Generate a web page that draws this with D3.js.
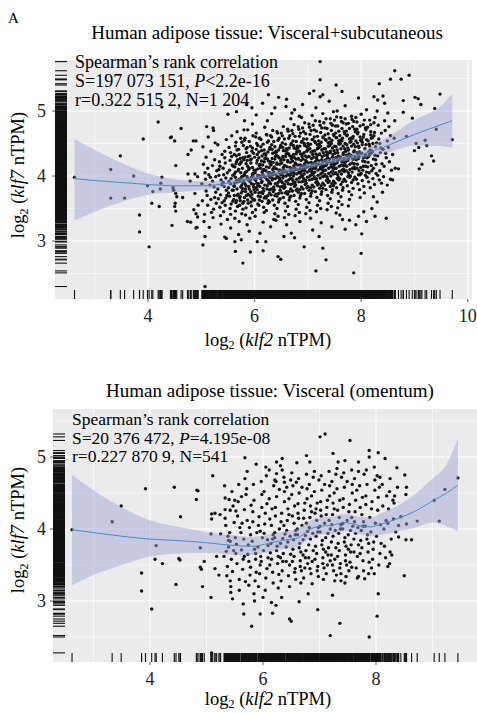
<!doctype html>
<html>
<head>
<meta charset="utf-8">
<title>klf2 vs klf7 adipose</title>
<script src="https://d3js.org/d3.v7.min.js"></script>
<style>
  body { margin: 0; background: #fff; }
  text { font-family: "Liberation Serif", "DejaVu Serif", serif; }
</style>
</head>
<body>
<script>
// ---- data: [log2 klf2, log2 klf7] ----
var visSubPoints = [
  // sparse left tail
  [2.62,3.98],[3.30,4.10],[3.48,4.31],[3.30,3.66],[3.56,3.66],[3.73,4.00],[3.91,4.57],[3.84,3.40],[3.84,3.14],[4.02,2.91],
  [4.19,4.83],[4.26,5.06],[3.99,3.85],[4.09,3.76],[4.07,3.58],[4.21,3.53],[4.26,3.98],[4.24,3.89],[4.23,3.80],[4.42,4.59],
  [4.50,4.54],[4.62,4.73],[4.52,4.16],[4.47,3.82],[4.48,3.78],[4.52,3.73],[4.54,3.68],[4.65,3.67],[4.51,3.58],[4.50,3.53],
  [4.52,3.46],[4.45,3.24],[4.85,4.54],[4.81,4.40],[4.75,4.33],[4.75,4.03],[4.79,3.92],[4.88,4.03],[4.93,3.99],[4.88,3.73],
  [4.94,3.55],[4.86,3.48],[4.90,3.42],[4.80,3.29],[4.92,3.21],[4.93,3.37],[4.44,4.60],[4.90,4.54],[5.22,4.74],[5.10,4.76],
  [5.50,4.95],[5.66,4.99],[5.07,2.30],[5.03,2.94],[5.07,3.07],[4.90,3.20],[4.74,3.30],[5.64,2.84],[5.63,2.99],[5.44,3.06],
  // top fringe
  [7.23,5.76],[7.23,5.48],[6.26,5.25],[6.45,5.21],[7.03,5.27],[7.11,5.31],[7.23,5.22],[7.28,5.25],[6.03,4.94],[6.32,4.96],
  [6.75,5.02],[6.84,4.92],[6.59,5.07],[5.81,4.85],[5.80,4.71],[5.95,5.05],[6.15,5.12],[6.60,5.18],[6.90,5.10],[7.40,5.15],
  [7.70,5.08],[7.95,5.20],[8.10,5.02],[6.38,5.05],[7.55,5.00],[8.00,4.95],[7.15,5.05],[5.85,5.10],[6.70,4.97],[8.30,5.00],[8.50,4.97],
  // right tail
  [8.63,5.62],[8.55,5.49],[8.75,5.49],[8.90,5.55],[8.34,5.42],[7.53,5.40],[7.64,5.30],[8.24,5.22],[8.41,5.23],[8.31,5.17],
  [8.44,5.12],[8.79,5.16],[9.01,5.21],[9.07,5.19],[9.12,5.10],[9.48,5.26],[9.38,5.04],[8.79,4.98],[8.96,4.89],[8.63,4.85],
  [9.41,4.72],[9.71,4.56],[9.20,4.55],[9.03,4.50],[9.08,4.44],[9.00,4.39],[9.23,4.47],[8.85,4.61],[9.32,4.31],[9.36,4.23],
  [9.14,4.18],[9.09,4.11],[8.70,4.11],[8.64,4.12],[8.49,3.86],[8.59,3.94],[8.38,3.89],[8.23,3.68],[8.20,3.50],[8.26,3.38],
  [8.47,3.35],[8.01,3.11],[8.00,2.81],[7.86,2.51],[7.78,3.32],[7.65,3.33],[7.95,3.38],[7.53,3.43],[8.62,4.58],
  // bottom fringe
  [5.78,2.66],[5.92,2.83],[6.16,2.85],[6.44,2.76],[6.49,2.72],[7.15,2.54],[6.93,2.91],[7.28,2.89],[5.47,3.04],[5.75,3.02],
  [6.05,2.99],[6.21,2.99],[6.55,3.07],[6.69,3.12],[7.09,3.17],[7.34,2.71],[7.21,3.07],[5.55,3.20],[5.90,3.15],[6.30,3.22],
  [6.60,3.25],[6.85,3.30],[7.25,3.28],[7.45,3.22],[7.70,3.18],[7.90,3.25],[8.10,3.30],[6.10,3.12],[6.75,3.05],[7.05,3.35],
  [5.70,3.10],[6.40,3.32],[7.60,3.40],[8.05,3.45],[8.30,3.60],[8.40,3.75],[8.55,3.95],
  // dense body
  [5.02,3.62],[5.04,4.18],[5.06,3.41],[5.08,3.95],[5.03,4.45],[5.09,3.77],[5.05,3.30],[5.07,4.05],[5.01,3.88],[5.09,4.29],
  [5.12,3.55],[5.14,4.02],[5.16,3.86],[5.18,4.38],[5.11,3.70],[5.19,3.44],[5.13,4.60],[5.17,3.98],[5.15,3.21],[5.12,4.12],[5.18,3.64],
  [5.21,3.92],[5.23,3.49],[5.25,4.25],[5.27,3.75],[5.29,4.08],[5.22,3.36],[5.26,4.51],[5.24,3.83],[5.28,3.58],[5.21,4.16],[5.27,3.99],[5.25,3.67],[5.23,4.70],
  [5.31,3.80],[5.33,4.10],[5.35,3.52],[5.37,3.94],[5.39,4.33],[5.32,3.65],[5.34,4.22],[5.36,3.39],[5.38,3.87],[5.31,4.48],[5.36,3.71],[5.33,4.01],[5.39,3.59],[5.35,4.15],[5.37,3.26],
  [5.41,3.90],[5.43,3.62],[5.45,4.20],[5.47,3.78],[5.49,4.05],[5.42,3.45],[5.44,4.38],[5.46,3.97],[5.48,3.70],[5.41,4.12],[5.45,3.55],[5.47,4.56],[5.43,3.84],[5.49,3.33],[5.44,4.28],[5.46,3.66],[5.42,4.02],
  [5.51,3.74],[5.53,4.09],[5.55,3.88],[5.57,4.30],[5.59,3.61],[5.52,4.44],[5.54,3.50],[5.56,3.96],[5.58,4.17],[5.51,3.82],[5.55,3.41],[5.57,4.62],[5.53,3.69],[5.59,4.01],[5.54,4.24],[5.56,3.57],[5.52,3.92],[5.58,3.78],[5.55,4.36],
  [5.61,3.85],[5.63,4.14],[5.65,3.59],[5.67,4.40],[5.69,3.72],[5.62,4.03],[5.64,3.46],[5.66,3.93],[5.68,4.25],[5.61,3.64],[5.65,4.52],[5.67,3.80],[5.63,3.35],[5.69,4.08],[5.64,3.98],[5.66,4.31],[5.62,3.70],[5.68,3.53],[5.65,4.19],[5.63,3.89],[5.67,4.68],
  [5.71,3.95],[5.73,3.68],[5.75,4.22],[5.77,3.81],[5.79,4.47],[5.72,3.55],[5.74,4.05],[5.76,3.42],[5.78,3.90],[5.71,4.33],[5.75,3.74],[5.77,4.12],[5.73,3.62],[5.79,4.00],[5.74,4.58],[5.76,3.86],[5.72,4.18],[5.78,3.49],[5.75,3.97],[5.73,4.27],[5.77,3.77],[5.71,3.30],
  [5.81,4.02],[5.83,3.76],[5.85,4.36],[5.87,3.63],[5.89,4.10],[5.82,3.88],[5.84,3.51],[5.86,4.24],[5.88,3.94],[5.81,4.55],[5.85,3.70],[5.87,4.15],[5.83,3.40],[5.89,3.84],[5.84,4.42],[5.86,3.99],[5.82,4.29],[5.88,3.58],[5.85,4.07],[5.83,3.80],[5.87,4.71],[5.81,3.67],[5.86,3.25],
  [5.91,3.92],[5.93,4.20],[5.95,3.66],[5.97,4.04],[5.99,3.79],[5.92,4.46],[5.94,3.54],[5.96,4.13],[5.98,3.87],[5.91,4.31],[5.95,3.72],[5.97,4.62],[5.93,3.60],[5.99,4.09],[5.94,3.98],[5.96,3.44],[5.92,4.25],[5.98,3.83],[5.95,4.38],[5.93,3.76],[5.97,4.00],[5.91,3.35],[5.96,4.80],
  [6.01,4.05],[6.03,3.82],[6.05,4.33],[6.07,3.69],[6.09,4.16],[6.02,3.93],[6.04,4.50],[6.06,3.57],[6.08,4.01],[6.01,3.75],[6.05,4.24],[6.07,3.88],[6.03,4.41],[6.09,3.63],[6.04,3.97],[6.06,4.11],[6.02,3.48],[6.08,4.28],[6.05,3.79],[6.03,4.66],[6.07,3.99],[6.01,3.38],[6.06,3.85],[6.09,4.58],
  [6.11,3.96],[6.13,4.23],[6.15,3.73],[6.17,4.10],[6.19,3.86],[6.12,4.45],[6.14,3.61],[6.16,4.02],[6.18,4.34],[6.11,3.68],[6.15,4.17],[6.17,3.52],[6.13,3.90],[6.19,4.27],[6.14,4.06],[6.16,3.81],[6.12,4.56],[6.18,3.44],[6.15,3.99],[6.13,4.39],[6.17,3.77],[6.11,4.12],[6.16,3.29],[6.19,4.75],
  [6.21,4.08],[6.23,3.80],[6.25,4.37],[6.27,3.92],[6.29,4.19],[6.22,3.66],[6.24,4.52],[6.26,4.01],[6.28,3.74],[6.21,4.28],[6.25,3.58],[6.27,4.13],[6.23,3.95],[6.29,4.44],[6.24,3.85],[6.26,4.23],[6.22,3.47],[6.28,4.05],[6.25,3.70],[6.23,4.63],[6.27,3.89],[6.21,4.33],[6.26,3.62],[6.29,3.98],[6.24,4.85],
  [6.31,4.00],[6.33,4.27],[6.35,3.76],[6.37,4.14],[6.39,3.88],[6.32,4.48],[6.34,3.63],[6.36,4.06],[6.38,4.36],[6.31,3.71],[6.35,4.21],[6.37,3.55],[6.33,3.94],[6.39,4.30],[6.34,4.10],[6.36,3.83],[6.32,4.60],[6.38,3.42],[6.35,4.02],[6.33,4.41],[6.37,3.79],[6.31,4.17],[6.36,3.33],[6.39,3.96],[6.34,4.70],
  [6.41,4.11],[6.43,3.85],[6.45,4.40],[6.47,3.97],[6.49,4.24],[6.42,3.69],[6.44,4.55],[6.46,4.05],[6.48,3.78],[6.41,4.32],[6.45,3.60],[6.47,4.18],[6.43,3.99],[6.49,4.47],[6.44,3.90],[6.46,4.28],[6.42,3.50],[6.48,4.09],[6.45,3.73],[6.43,4.66],[6.47,3.93],[6.41,4.37],[6.46,3.64],[6.49,4.02],[6.44,3.38],[6.42,4.20],
  [6.51,4.04],[6.53,4.30],[6.55,3.81],[6.57,4.16],[6.59,3.92],[6.52,4.51],[6.54,3.67],[6.56,4.09],[6.58,4.39],[6.51,3.74],[6.55,4.25],[6.57,3.58],[6.53,3.97],[6.59,4.34],[6.54,4.13],[6.56,3.87],[6.52,4.62],[6.58,3.46],[6.55,4.06],[6.53,4.44],[6.57,3.83],[6.51,4.20],[6.56,3.36],[6.59,4.00],[6.54,4.76],[6.52,3.90],
  [6.61,4.14],[6.63,3.88],[6.65,4.43],[6.67,4.01],[6.69,4.27],[6.62,3.72],[6.64,4.58],[6.66,4.08],[6.68,3.80],[6.61,4.35],[6.65,3.63],[6.67,4.21],[6.63,4.02],[6.69,4.50],[6.64,3.94],[6.66,4.31],[6.62,3.53],[6.68,4.12],[6.65,3.76],[6.63,4.69],[6.67,3.96],[6.61,4.40],[6.66,3.67],[6.69,4.05],[6.64,3.41],[6.62,4.24],[6.68,4.88],
  [6.71,4.07],[6.73,4.33],[6.75,3.84],[6.77,4.19],[6.79,3.95],[6.72,4.54],[6.74,3.70],[6.76,4.12],[6.78,4.42],[6.71,3.77],[6.75,4.28],[6.77,3.61],[6.73,4.00],[6.79,4.37],[6.74,4.16],[6.76,3.90],[6.72,4.65],[6.78,3.49],[6.75,4.09],[6.73,4.47],[6.77,3.86],[6.71,4.23],[6.76,3.39],[6.79,4.03],[6.74,4.79],[6.72,3.93],[6.78,4.26],
  [6.81,4.17],[6.83,3.91],[6.85,4.46],[6.87,4.04],[6.89,4.30],[6.82,3.75],[6.84,4.61],[6.86,4.11],[6.88,3.83],[6.81,4.38],[6.85,3.66],[6.87,4.24],[6.83,4.05],[6.89,4.53],[6.84,3.97],[6.86,4.34],[6.82,3.56],[6.88,4.15],[6.85,3.79],[6.83,4.72],[6.87,3.99],[6.81,4.43],[6.86,3.70],[6.89,4.08],[6.84,3.44],[6.82,4.27],[6.88,4.90],
  [6.91,4.10],[6.93,4.36],[6.95,3.87],[6.97,4.22],[6.99,3.98],[6.92,4.57],[6.94,3.73],[6.96,4.15],[6.98,4.45],[6.91,3.80],[6.95,4.31],[6.97,3.64],[6.93,4.03],[6.99,4.40],[6.94,4.19],[6.96,3.93],[6.92,4.68],[6.98,3.52],[6.95,4.12],[6.93,4.50],[6.97,3.89],[6.91,4.26],[6.96,3.42],[6.99,4.06],[6.94,4.82],[6.92,3.96],[6.98,4.29],
  [7.01,4.20],[7.03,3.94],[7.05,4.49],[7.07,4.07],[7.09,4.33],[7.02,3.78],[7.04,4.64],[7.06,4.14],[7.08,3.86],[7.01,4.41],[7.05,3.69],[7.07,4.27],[7.03,4.08],[7.09,4.56],[7.04,4.00],[7.06,4.37],[7.02,3.59],[7.08,4.18],[7.05,3.82],[7.03,4.75],[7.07,4.02],[7.01,4.46],[7.06,3.73],[7.09,4.11],[7.04,3.47],[7.02,4.30],[7.08,4.93],
  [7.11,4.13],[7.13,4.39],[7.15,3.90],[7.17,4.25],[7.19,4.01],[7.12,4.60],[7.14,3.76],[7.16,4.18],[7.18,4.48],[7.11,3.83],[7.15,4.34],[7.17,3.67],[7.13,4.06],[7.19,4.43],[7.14,4.22],[7.16,3.96],[7.12,4.71],[7.18,3.55],[7.15,4.15],[7.13,4.53],[7.17,3.92],[7.11,4.29],[7.16,3.45],[7.19,4.09],[7.14,4.85],[7.12,3.99],[7.18,4.32],
  [7.21,4.23],[7.23,3.97],[7.25,4.52],[7.27,4.10],[7.29,4.36],[7.22,3.81],[7.24,4.67],[7.26,4.17],[7.28,3.89],[7.21,4.44],[7.25,3.72],[7.27,4.30],[7.23,4.11],[7.29,4.59],[7.24,4.03],[7.26,4.40],[7.22,3.62],[7.28,4.21],[7.25,3.85],[7.23,4.78],[7.27,4.05],[7.21,4.49],[7.26,3.76],[7.29,4.14],[7.24,3.50],[7.22,4.33],[7.28,4.96],
  [7.31,4.16],[7.33,4.42],[7.35,3.93],[7.37,4.28],[7.39,4.04],[7.32,4.63],[7.34,3.79],[7.36,4.21],[7.38,4.51],[7.31,3.86],[7.35,4.37],[7.37,3.70],[7.33,4.09],[7.39,4.46],[7.34,4.25],[7.36,3.99],[7.32,4.74],[7.38,3.58],[7.35,4.18],[7.33,4.56],[7.37,3.95],[7.31,4.32],[7.36,3.48],[7.39,4.12],[7.34,4.88],[7.32,4.02],[7.38,4.35],
  [7.41,4.26],[7.43,4.00],[7.45,4.55],[7.47,4.13],[7.49,4.39],[7.42,3.84],[7.44,4.70],[7.46,4.20],[7.48,3.92],[7.41,4.47],[7.45,3.75],[7.47,4.33],[7.43,4.14],[7.49,4.62],[7.44,4.06],[7.46,4.43],[7.42,3.65],[7.48,4.24],[7.45,3.88],[7.43,4.81],[7.47,4.08],[7.41,4.52],[7.46,3.79],[7.49,4.17],[7.44,3.53],[7.42,4.36],[7.48,4.99],
  [7.51,4.19],[7.53,4.45],[7.55,3.96],[7.57,4.31],[7.59,4.07],[7.52,4.66],[7.54,3.82],[7.56,4.24],[7.58,4.54],[7.51,3.89],[7.55,4.40],[7.57,3.73],[7.53,4.12],[7.59,4.49],[7.54,4.28],[7.56,4.02],[7.52,4.77],[7.58,3.61],[7.55,4.21],[7.53,4.59],[7.57,3.98],[7.51,4.35],[7.56,3.51],[7.59,4.15],[7.54,4.91],[7.52,4.05],
  [7.61,4.29],[7.63,4.03],[7.65,4.58],[7.67,4.16],[7.69,4.42],[7.62,3.87],[7.64,4.73],[7.66,4.23],[7.68,3.95],[7.61,4.50],[7.65,3.78],[7.67,4.36],[7.63,4.17],[7.69,4.65],[7.64,4.09],[7.66,4.46],[7.62,3.68],[7.68,4.27],[7.65,3.91],[7.63,4.84],[7.67,4.11],[7.61,4.55],[7.66,3.82],[7.69,4.20],[7.64,3.56],
  [7.71,4.22],[7.73,4.48],[7.75,3.99],[7.77,4.34],[7.79,4.10],[7.72,4.69],[7.74,3.85],[7.76,4.27],[7.78,4.57],[7.71,3.92],[7.75,4.43],[7.77,3.76],[7.73,4.15],[7.79,4.52],[7.74,4.31],[7.76,4.05],[7.72,4.80],[7.78,3.64],[7.75,4.24],[7.73,4.62],[7.77,4.01],[7.71,4.38],[7.76,3.54],[7.79,4.18],
  [7.81,4.32],[7.83,4.06],[7.85,4.61],[7.87,4.19],[7.89,4.45],[7.82,3.90],[7.84,4.76],[7.86,4.26],[7.88,3.98],[7.81,4.53],[7.85,3.81],[7.87,4.39],[7.83,4.20],[7.89,4.68],[7.84,4.12],[7.86,4.49],[7.82,3.71],[7.88,4.30],[7.85,3.94],[7.83,4.87],[7.87,4.14],[7.81,4.58],
  [7.91,4.25],[7.93,4.51],[7.95,4.02],[7.97,4.37],[7.99,4.13],[7.92,4.72],[7.94,3.88],[7.96,4.30],[7.98,4.60],[7.91,3.95],[7.95,4.46],[7.97,3.79],[7.93,4.18],[7.99,4.55],[7.94,4.34],[7.96,4.08],[7.92,4.83],[7.98,3.67],[7.95,4.27],[7.93,4.65],
  [8.01,4.35],[8.03,4.09],[8.05,4.64],[8.07,4.22],[8.09,4.48],[8.02,3.93],[8.04,4.79],[8.06,4.29],[8.08,4.01],[8.01,4.56],[8.05,3.84],[8.07,4.42],[8.03,4.23],[8.09,4.71],[8.04,4.15],[8.06,3.74],[8.02,4.52],[8.08,4.33],
  [8.11,4.28],[8.13,4.54],[8.15,4.05],[8.17,4.40],[8.19,4.16],[8.12,4.75],[8.14,3.91],[8.16,4.33],[8.18,4.63],[8.11,3.98],[8.15,4.49],[8.17,3.82],[8.13,4.21],[8.19,4.58],[8.14,4.37],[8.16,4.86],
  [8.21,4.38],[8.23,4.12],[8.25,4.67],[8.27,4.25],[8.29,4.51],[8.22,3.96],[8.24,4.82],[8.26,4.32],[8.28,4.04],[8.21,4.59],[8.25,3.87],[8.27,4.45],[8.23,4.26],
  [8.31,4.31],[8.33,4.57],[8.35,4.08],[8.37,4.43],[8.39,4.19],[8.32,4.78],[8.34,3.94],[8.36,4.36],[8.38,4.66],[8.31,4.01],[8.35,4.50],
  [8.41,4.41],[8.43,4.15],[8.45,4.70],[8.47,4.28],[8.49,4.54],[8.42,3.99],[8.44,4.85],[8.46,4.35],
  [8.51,4.44],[8.53,4.22],[8.55,4.62],[8.57,4.09],[8.59,4.33],[8.52,4.76],
  // dense body, darkest middle
  [5.60,3.78],[5.64,4.06],[5.68,3.91],[5.62,4.33],[5.66,3.62],[5.60,4.15],[5.68,3.70],[5.64,4.46],[5.62,3.84],[5.66,4.22],
  [5.70,4.10],[5.74,3.83],[5.78,4.28],[5.72,3.66],[5.76,3.99],[5.70,4.41],[5.78,3.58],[5.74,4.20],[5.72,3.92],[5.76,4.52],
  [5.80,3.93],[5.84,4.19],[5.88,3.72],[5.82,4.05],[5.86,4.44],[5.80,3.61],[5.88,4.30],[5.84,3.85],[5.82,4.58],[5.86,3.97],[5.80,4.25],
  [5.90,4.12],[5.94,3.88],[5.98,4.35],[5.92,3.69],[5.96,4.02],[5.90,4.53],[5.98,3.63],[5.94,4.26],[5.92,3.95],[5.96,4.43],[5.90,3.80],
  [6.00,3.95],[6.04,4.20],[6.08,3.74],[6.02,4.09],[6.06,4.47],[6.00,3.63],[6.08,4.37],[6.04,3.89],[6.02,4.60],[6.06,4.01],[6.00,4.29],[6.08,3.55],
  [6.10,4.18],[6.14,3.92],[6.18,4.40],[6.12,3.75],[6.16,4.08],[6.10,4.58],[6.18,3.66],[6.14,4.31],[6.12,4.00],[6.16,4.49],[6.10,3.84],[6.18,4.22],
  [6.20,3.98],[6.24,4.26],[6.28,3.79],[6.22,4.14],[6.26,4.54],[6.20,3.68],[6.28,4.41],[6.24,3.94],[6.22,4.64],[6.26,4.05],[6.20,4.34],[6.28,3.60],
  [6.30,4.22],[6.34,3.96],[6.38,4.45],[6.32,3.80],[6.36,4.12],[6.30,4.62],[6.38,3.70],[6.34,4.35],[6.32,4.04],[6.36,4.53],[6.30,3.88],[6.38,4.26],
  [6.40,4.02],[6.44,4.30],[6.48,3.83],[6.42,4.18],[6.46,4.58],[6.40,3.72],[6.48,4.44],[6.44,3.98],[6.42,4.68],[6.46,4.09],[6.40,4.38],[6.48,3.65],
  [6.50,4.26],[6.54,4.00],[6.58,4.49],[6.52,3.84],[6.56,4.16],[6.50,4.66],[6.58,3.74],[6.54,4.39],[6.52,4.08],[6.56,4.57],[6.50,3.92],[6.58,4.30],
  [6.60,4.06],[6.64,4.34],[6.68,3.87],[6.62,4.22],[6.66,4.62],[6.60,3.76],[6.68,4.48],[6.64,4.02],[6.62,4.72],[6.66,4.13],[6.60,4.42],[6.68,3.69],
  [6.70,4.30],[6.74,4.04],[6.78,4.53],[6.72,3.88],[6.76,4.20],[6.70,4.70],[6.78,3.78],[6.74,4.43],[6.72,4.12],[6.76,4.61],[6.70,3.96],[6.78,4.34],
  [6.80,4.10],[6.84,4.38],[6.88,3.91],[6.82,4.26],[6.86,4.66],[6.80,3.80],[6.88,4.52],[6.84,4.06],[6.82,4.76],[6.86,4.17],[6.80,4.46],[6.88,3.73],
  [6.90,4.34],[6.94,4.08],[6.98,4.57],[6.92,3.92],[6.96,4.24],[6.90,4.74],[6.98,3.82],[6.94,4.47],[6.92,4.16],[6.96,4.65],[6.90,4.00],[6.98,4.38],
  [7.00,4.14],[7.04,4.42],[7.08,3.95],[7.02,4.30],[7.06,4.70],[7.00,3.84],[7.08,4.56],[7.04,4.10],[7.02,4.80],[7.06,4.21],[7.00,4.50],[7.08,3.77],
  [7.10,4.38],[7.14,4.12],[7.18,4.61],[7.12,3.96],[7.16,4.28],[7.10,4.78],[7.18,3.86],[7.14,4.51],[7.12,4.20],[7.16,4.69],[7.10,4.04],[7.18,4.42],
  [7.20,4.18],[7.24,4.46],[7.28,3.99],[7.22,4.34],[7.26,4.74],[7.20,3.88],[7.28,4.60],[7.24,4.14],[7.22,4.84],[7.26,4.25],[7.20,4.54],[7.28,3.81],
  [7.30,4.42],[7.34,4.16],[7.38,4.65],[7.32,4.00],[7.36,4.32],[7.30,4.82],[7.38,3.90],[7.34,4.55],[7.32,4.24],[7.36,4.73],[7.30,4.08],[7.38,4.46],
  [7.40,4.22],[7.44,4.50],[7.48,4.03],[7.42,4.38],[7.46,4.78],[7.40,3.92],[7.48,4.64],[7.44,4.18],[7.42,4.88],[7.46,4.29],[7.40,4.58],[7.48,3.85],
  [7.50,4.46],[7.54,4.20],[7.58,4.69],[7.52,4.04],[7.56,4.36],[7.50,4.86],[7.58,3.94],[7.54,4.59],[7.52,4.28],[7.56,4.77],[7.50,4.12],[7.58,4.50],
  [7.60,4.26],[7.64,4.54],[7.68,4.07],[7.62,4.42],[7.66,4.82],[7.60,3.96],[7.68,4.68],[7.64,4.22],[7.62,4.90],[7.66,4.33],[7.60,4.62],
  [7.70,4.50],[7.74,4.24],[7.78,4.73],[7.72,4.08],[7.76,4.40],[7.70,4.88],[7.78,3.98],[7.74,4.63],[7.72,4.32],[7.76,4.81],[7.70,4.16],
  [7.80,4.30],[7.84,4.58],[7.88,4.11],[7.82,4.46],[7.86,4.84],[7.80,4.00],[7.88,4.72],[7.84,4.26],[7.82,4.92],[7.86,4.37],
  [7.90,4.54],[7.94,4.28],[7.98,4.77],[7.92,4.12],[7.96,4.44],[7.90,4.90],[7.98,4.02],[7.94,4.67],[7.92,4.36],
  [8.00,4.34],[8.04,4.60],[8.08,4.15],[8.02,4.48],[8.06,4.86],[8.00,4.04],[8.08,4.74],[8.04,4.28],
  [8.10,4.56],[8.14,4.30],[8.18,4.79],[8.12,4.14],[8.16,4.46],[8.10,4.06],[8.18,4.68],
  [8.20,4.36],[8.24,4.62],[8.28,4.18],[8.22,4.50],[8.26,4.90],[8.20,4.08]
];

var omentumPoints = [
  // left tail
  [2.62,3.99],[3.33,4.10],[3.49,4.32],[3.92,4.56],[3.85,3.39],[3.85,3.14],[4.03,2.89],[4.11,3.77],[4.09,3.58],[4.22,3.52],
  [4.43,4.58],[4.54,4.17],[4.51,3.59],[4.53,3.57],[4.46,3.23],[4.82,4.41],[4.85,4.53],[5.11,4.74],[4.89,3.74],[4.89,3.47],
  [4.91,3.44],[4.93,3.20],[5.08,3.05],[5.09,2.28],[4.96,3.55],[5.09,4.14],[5.09,4.21],[5.15,4.22],[5.24,4.20],[5.08,3.93],
  [5.25,3.93],[5.15,3.45],[5.33,4.27],[5.40,4.41],[5.50,4.40],[5.33,4.43],[5.42,4.26],[5.52,4.25],[5.39,3.84],[5.35,3.69],
  [5.42,3.28],[5.43,3.20],[5.46,3.03],[4.83,4.54],[5.18,3.62],[5.22,3.36],
  // top fringe
  [5.68,4.99],[7.01,5.28],[7.10,5.32],[6.05,4.86],[6.24,4.93],[6.34,4.98],[6.31,4.88],[6.77,5.02],[6.83,4.93],[6.24,4.77],
  [6.21,4.68],[6.38,4.65],[6.53,4.60],[5.70,4.48],[7.54,5.23],[7.24,5.05],[7.33,4.93],[7.69,4.93],[7.88,5.09],[7.88,5.00],
  [8.04,5.06],[8.16,4.98],[8.37,4.85],[8.07,4.72],[5.88,4.90],[6.60,4.92],[7.45,4.95],
  // right tail
  [9.45,4.71],[9.22,4.55],[9.03,4.40],[9.12,4.11],[8.73,4.11],[8.54,4.58],[8.51,4.75],[8.54,4.07],[8.40,4.05],[8.44,4.17],
  [8.40,3.89],[8.53,3.85],[8.63,3.85],[8.50,3.35],[8.25,3.68],[8.24,3.52],[8.21,3.48],[8.04,3.10],[8.02,2.79],[7.88,2.50],
  [7.36,2.69],[7.19,2.52],[7.23,3.08],[8.53,4.48],[8.33,4.46],[8.30,4.40],[7.97,3.38],[7.80,3.31],[7.69,3.34],[7.57,3.47],
  [7.45,3.25],[7.38,3.28],[7.30,3.36],
  // bottom fringe
  [6.97,2.88],[6.47,2.75],[6.50,2.72],[5.80,2.65],[5.66,2.82],[5.95,2.82],[6.17,2.83],[5.65,2.96],[6.00,3.05],[6.15,2.98],
  [6.23,2.94],[6.64,2.99],[6.33,3.05],[6.80,3.10],[5.85,3.00],
  // body
  [5.31,3.62],[5.34,4.05],[5.37,3.48],[5.32,4.60],[5.38,3.90],[5.36,3.35],[5.33,4.15],[5.39,3.75],
  [5.41,3.95],[5.44,3.58],[5.47,4.32],[5.43,3.12],[5.48,3.70],[5.45,4.52],[5.42,3.83],[5.49,4.09],[5.46,3.41],
  [5.52,3.66],[5.55,4.18],[5.58,3.30],[5.51,3.88],[5.57,4.62],[5.54,3.52],[5.59,4.02],[5.53,3.79],[5.56,4.38],[5.58,3.15],
  [5.61,3.95],[5.64,3.44],[5.67,4.27],[5.62,3.71],[5.68,4.70],[5.65,3.58],[5.63,4.08],[5.69,3.27],[5.66,3.86],[5.62,4.45],[5.67,3.62],
  [5.72,4.12],[5.75,3.55],[5.78,3.92],[5.71,4.56],[5.77,3.36],[5.74,3.78],[5.79,4.33],[5.73,3.65],[5.76,4.02],[5.78,3.47],[5.72,4.80],[5.75,3.22],
  [5.81,3.83],[5.84,4.40],[5.87,3.58],[5.82,4.10],[5.88,3.40],[5.85,3.72],[5.83,4.62],[5.89,3.95],[5.86,3.28],[5.82,4.24],[5.87,3.66],[5.84,3.10],
  [5.92,4.05],[5.95,3.50],[5.98,4.30],[5.91,3.75],[5.97,4.66],[5.94,3.38],[5.99,3.88],[5.93,4.17],[5.96,3.62],[5.98,4.48],[5.92,3.20],[5.95,3.97],[5.97,3.55],
  [6.01,3.70],[6.04,4.22],[6.07,3.45],[6.02,4.52],[6.08,3.85],[6.05,3.32],[6.03,4.07],[6.09,3.60],[6.06,4.74],[6.02,3.94],[6.07,4.35],[6.04,3.15],[6.09,3.77],
  [6.12,4.14],[6.15,3.58],[6.18,3.92],[6.11,4.42],[6.17,3.40],[6.14,3.80],[6.19,4.60],[6.13,3.67],[6.16,4.28],[6.18,3.25],[6.12,3.50],[6.15,4.05],[6.17,3.86],[6.11,4.82],
  [6.21,3.88],[6.24,4.45],[6.27,3.62],[6.22,4.18],[6.28,3.37],[6.25,3.76],[6.23,4.66],[6.29,4.00],[6.26,3.52],[6.22,4.30],[6.27,3.18],[6.24,3.70],[6.29,4.55],[6.21,3.95],
  [6.32,4.10],[6.35,3.55],[6.38,4.38],[6.31,3.80],[6.37,4.72],[6.34,3.42],[6.39,3.93],[6.33,4.22],[6.36,3.66],[6.38,4.52],[6.32,3.28],[6.35,3.87],[6.37,4.05],[6.31,3.60],[6.34,4.82],
  [6.41,3.75],[6.44,4.28],[6.47,3.50],[6.42,4.58],[6.48,3.90],[6.45,3.35],[6.43,4.12],[6.49,3.65],[6.46,4.42],[6.42,3.98],[6.47,3.20],[6.44,3.82],[6.49,4.68],[6.41,3.55],[6.46,4.20],
  [6.52,4.18],[6.55,3.62],[6.58,3.98],[6.51,4.48],[6.57,3.45],[6.54,3.85],[6.59,4.65],[6.53,3.72],[6.56,4.32],[6.58,3.30],[6.52,3.55],[6.55,4.08],[6.57,3.92],[6.51,4.78],[6.56,3.40],
  [6.61,3.92],[6.64,4.50],[6.67,3.68],[6.62,4.22],[6.68,3.42],[6.65,3.80],[6.63,4.70],[6.69,4.05],[6.66,3.56],[6.62,4.35],[6.67,3.25],[6.64,3.74],[6.69,4.58],[6.61,4.00],[6.66,3.48],[6.63,4.15],
  [6.72,4.15],[6.75,3.60],[6.78,4.42],[6.71,3.85],[6.77,4.76],[6.74,3.46],[6.79,3.97],[6.73,4.26],[6.76,3.70],[6.78,4.56],[6.72,3.32],[6.75,3.91],[6.77,4.08],[6.71,3.64],[6.74,4.36],[6.79,3.52],
  [6.81,3.78],[6.84,4.32],[6.87,3.55],[6.82,4.62],[6.88,3.94],[6.85,3.38],[6.83,4.16],[6.89,3.70],[6.86,4.46],[6.82,4.02],[6.87,3.24],[6.84,3.86],[6.89,4.72],[6.81,3.60],[6.86,4.24],[6.83,3.45],
  [6.92,4.22],[6.95,3.66],[6.98,4.02],[6.91,4.52],[6.97,3.48],[6.94,3.90],[6.99,4.68],[6.93,3.76],[6.96,4.36],[6.98,3.34],[6.92,3.58],[6.95,4.12],[6.97,3.96],[6.91,4.80],[6.96,3.42],[6.94,4.28],
  [7.01,3.96],[7.04,4.54],[7.07,3.72],[7.02,4.26],[7.08,3.46],[7.05,3.84],[7.03,4.74],[7.09,4.08],[7.06,3.60],[7.02,4.38],[7.07,3.30],[7.04,3.78],[7.09,4.62],[7.01,4.04],[7.06,3.52],[7.03,4.18],
  [7.12,4.20],[7.15,3.64],[7.18,4.46],[7.11,3.88],[7.17,4.80],[7.14,3.50],[7.19,4.00],[7.13,4.30],[7.16,3.74],[7.18,4.60],[7.12,3.38],[7.15,3.94],[7.17,4.12],[7.11,3.68],[7.14,4.40],[7.19,3.56],
  [7.21,3.82],[7.24,4.36],[7.27,3.58],[7.22,4.66],[7.28,3.98],[7.25,3.42],[7.23,4.20],[7.29,3.74],[7.26,4.50],[7.22,4.06],[7.27,3.28],[7.24,3.90],[7.29,4.76],[7.21,3.64],[7.26,4.28],[7.23,3.50],
  [7.32,4.26],[7.35,3.70],[7.38,4.06],[7.31,4.56],[7.37,3.52],[7.34,3.94],[7.39,4.72],[7.33,3.80],[7.36,4.40],[7.38,3.38],[7.32,3.62],[7.35,4.16],[7.37,4.00],[7.31,4.84],[7.36,3.46],
  [7.41,4.00],[7.44,4.58],[7.47,3.76],[7.42,4.30],[7.48,3.50],[7.45,3.88],[7.43,4.78],[7.49,4.12],[7.46,3.64],[7.42,4.42],[7.47,3.34],[7.44,3.82],[7.49,4.66],[7.41,4.08],[7.46,3.56],
  [7.52,4.24],[7.55,3.68],[7.58,4.50],[7.51,3.92],[7.57,4.82],[7.54,3.54],[7.59,4.04],[7.53,4.34],[7.56,3.78],[7.58,4.62],[7.52,3.42],[7.55,3.98],[7.57,4.16],[7.51,3.72],
  [7.61,3.86],[7.64,4.40],[7.67,3.62],[7.62,4.70],[7.68,4.02],[7.65,3.46],[7.63,4.24],[7.69,3.78],[7.66,4.54],[7.62,4.10],[7.67,3.32],[7.64,3.94],[7.69,4.80],[7.61,3.68],
  [7.72,4.30],[7.75,3.74],[7.78,4.10],[7.71,4.60],[7.77,3.56],[7.74,3.98],[7.79,4.76],[7.73,3.84],[7.76,4.44],[7.78,3.42],[7.72,3.66],[7.75,4.20],[7.77,4.04],
  [7.81,4.04],[7.84,4.62],[7.87,3.80],[7.82,4.34],[7.88,3.54],[7.85,3.92],[7.83,4.82],[7.89,4.16],[7.86,3.68],[7.82,4.46],[7.87,3.38],[7.84,3.86],
  [7.92,4.28],[7.95,3.72],[7.98,4.54],[7.91,3.96],[7.97,4.86],[7.94,3.58],[7.99,4.08],[7.93,4.38],[7.96,3.82],[7.98,4.68],[7.92,3.46],
  [8.01,3.90],[8.04,4.44],[8.07,3.66],[8.02,4.74],[8.08,4.06],[8.05,3.50],[8.03,4.26],[8.09,3.80],[8.06,4.58],
  [8.12,4.32],[8.15,3.76],[8.18,4.12],[8.11,4.62],[8.17,3.60],[8.14,4.00],[8.19,4.46],
  [8.21,4.08],[8.24,4.52],[8.27,3.86],[8.22,4.28],[8.28,3.64],[8.25,4.70],
  [8.32,4.36],[8.35,3.96],[8.38,4.58],[8.31,4.14]
];

// loess fit and 95% band
var visSubFitX = [2.62, 3.0, 3.5, 4.0, 4.5, 5.0, 5.5, 6.0, 6.5, 7.0, 7.5, 8.0, 8.5, 9.0, 9.5, 9.71];
var visSubFit  = [3.96, 3.93, 3.90, 3.87, 3.85, 3.85, 3.89, 3.97, 4.06, 4.15, 4.24, 4.33, 4.47, 4.64, 4.79, 4.85];
var visSubLo   = [3.32, 3.45, 3.60, 3.71, 3.75, 3.78, 3.84, 3.93, 4.02, 4.11, 4.20, 4.27, 4.36, 4.47, 4.46, 4.43];
var visSubHi   = [4.57, 4.40, 4.20, 4.04, 3.95, 3.92, 3.94, 4.01, 4.10, 4.19, 4.28, 4.39, 4.60, 4.86, 5.08, 5.27];

var omFitX = [2.62, 3.0, 3.5, 4.0, 4.5, 5.0, 5.5, 5.8, 6.1, 6.4, 6.6, 6.8, 7.0, 7.2, 7.45, 7.7, 7.9, 8.1, 8.4, 8.7, 9.0, 9.25, 9.45];
var omFit  = [3.99, 3.95, 3.90, 3.86, 3.84, 3.81, 3.77, 3.76, 3.80, 3.85, 3.87, 3.98, 4.04, 4.05, 4.09, 4.05, 4.03, 4.07, 4.15, 4.25, 4.39, 4.50, 4.61];
var omLo   = [3.22, 3.36, 3.50, 3.62, 3.66, 3.67, 3.64, 3.64, 3.68, 3.73, 3.75, 3.86, 3.92, 3.93, 3.97, 3.93, 3.90, 3.92, 3.97, 4.02, 4.09, 4.04, 3.97];
var omHi   = [4.75, 4.54, 4.30, 4.12, 4.03, 3.96, 3.91, 3.89, 3.92, 3.97, 4.00, 4.10, 4.16, 4.17, 4.21, 4.17, 4.16, 4.22, 4.33, 4.49, 4.70, 4.90, 5.25];

var xTicks1 = [4, 6, 8, 10];
var xTicks2 = [4, 6, 8];
var xMinor = [3, 5, 7, 9];
var yTicks = [3, 4, 5];
var yMinor = [2.5, 3.5, 4.5, 5.5];

var titles = ["Human adipose tissue: Visceral+subcutaneous", "Human adipose tissue: Visceral (omentum)"];
var statS = ["S=197 073 151, ", "S=20 376 472, "];
var statP = ["<2.2e-16", "=4.195e-08"];
var statR = ["r=0.322 515 2, N=1 204", "r=0.227 870 9, N=541"];

var W = 477, H = 713;
var svg = d3.select("body").append("svg")
  .attr("width", W).attr("height", H)
  .style("background", "#fff");

svg.append("text").attr("x", 8).attr("y", 23)
  .style("font-size", "15px").text("A");

var panels = [
  { left: 55, right: 472, top: 60, bottom: 299, xd: [2.254, 10.08], yd: [2.108, 5.785],
    pts: visSubPoints, fx: visSubFitX, fy: visSubFit, lo: visSubLo, hi: visSubHi, xTicks: xTicks1,
    titleX: 267, titleY: 39, statX: 75, statY: [68, 87, 106], tickY: 322, xlabY: 346, ylabY: 175 },
  { left: 53, right: 477, top: 409, bottom: 662, xd: [2.283, 9.788], yd: [2.153, 5.667],
    pts: omentumPoints, fx: omFitX, fy: omFit, lo: omLo, hi: omHi, xTicks: xTicks2,
    titleX: 270, titleY: 397, statX: 72, statY: [425, 443.5, 462], tickY: 685, xlabY: 705, ylabY: 530 }
];

panels.forEach(function(p, i) {
  var x = d3.scaleLinear().domain(p.xd).range([p.left, p.right]);
  var y = d3.scaleLinear().domain(p.yd).range([p.bottom, p.top]);
  var g = svg.append("g");

  // title
  g.append("text").attr("x", p.titleX).attr("y", p.titleY)
    .attr("text-anchor", "middle").style("font-size", "19px").text(titles[i]);

  // panel background
  g.append("rect").attr("x", p.left).attr("y", p.top)
    .attr("width", p.right - p.left).attr("height", p.bottom - p.top)
    .attr("fill", "#ebebeb");

  // grid
  g.selectAll(".vmin").data(xMinor).enter().append("line")
    .attr("x1", d => x(d)).attr("x2", d => x(d)).attr("y1", p.top).attr("y2", p.bottom)
    .attr("stroke", "#fff").attr("stroke-width", 0.6);
  g.selectAll(".hmin").data(yMinor).enter().append("line")
    .attr("y1", d => y(d)).attr("y2", d => y(d)).attr("x1", p.left).attr("x2", p.right)
    .attr("stroke", "#fff").attr("stroke-width", 0.6);
  g.selectAll(".vmaj").data(p.xTicks).enter().append("line")
    .attr("x1", d => x(d)).attr("x2", d => x(d)).attr("y1", p.top).attr("y2", p.bottom)
    .attr("stroke", "#fffef4").attr("stroke-width", 1.2);
  g.selectAll(".hmaj").data(yTicks).enter().append("line")
    .attr("y1", d => y(d)).attr("y2", d => y(d)).attr("x1", p.left).attr("x2", p.right)
    .attr("stroke", "#fff").attr("stroke-width", 1.2);

  // rugs
  g.selectAll(".rugy").data(p.pts).enter().append("line")
    .attr("x1", p.left).attr("x2", p.left + 12)
    .attr("y1", d => y(d[1])).attr("y2", d => y(d[1]))
    .attr("stroke", "#111").attr("stroke-width", 1.1);
  g.selectAll(".rugx").data(p.pts).enter().append("line")
    .attr("y1", p.bottom - 9).attr("y2", p.bottom)
    .attr("x1", d => x(d[0])).attr("x2", d => x(d[0]))
    .attr("stroke", "#111").attr("stroke-width", 1.1);

  // points
  g.selectAll(".pt").data(p.pts).enter().append("circle")
    .attr("cx", d => x(d[0])).attr("cy", d => y(d[1])).attr("r", 1.7)
    .attr("fill", "#151515");

  // smooth band + line
  var idx = d3.range(p.fx.length);
  g.append("path")
    .attr("d", d3.area().x(k => x(p.fx[k])).y0(k => y(p.lo[k])).y1(k => y(p.hi[k]))
      .curve(d3.curveMonotoneX)(idx))
    .attr("fill", "#9aa0d0").attr("fill-opacity", 0.45);
  g.append("path")
    .attr("d", d3.line().x(k => x(p.fx[k])).y(k => y(p.fy[k])).curve(d3.curveMonotoneX)(idx))
    .attr("fill", "none").attr("stroke", "#4a8ec4").attr("stroke-width", 1);

  // axes ticks
  g.selectAll(".xt").data(p.xTicks).enter().append("line")
    .attr("x1", d => x(d)).attr("x2", d => x(d)).attr("y1", p.bottom).attr("y2", p.bottom + 3)
    .attr("stroke", "#333").attr("stroke-width", 0.8);
  g.selectAll(".xtl").data(p.xTicks).enter().append("text")
    .attr("x", d => x(d)).attr("y", p.tickY).attr("text-anchor", "middle")
    .style("font-size", "18px").attr("fill", "#222").text(d => d);
  g.selectAll(".yt").data(yTicks).enter().append("line")
    .attr("y1", d => y(d)).attr("y2", d => y(d)).attr("x1", p.left - 3).attr("x2", p.left)
    .attr("stroke", "#333").attr("stroke-width", 0.8);
  g.selectAll(".ytl").data(yTicks).enter().append("text")
    .attr("x", 46).attr("y", d => y(d) + 6).attr("text-anchor", "end")
    .style("font-size", "18px").attr("fill", "#222").text(d => d);

  // axis titles
  var xl = g.append("text").attr("x", 268).attr("y", p.xlabY)
    .attr("text-anchor", "middle").style("font-size", "18.5px");
  xl.append("tspan").text("log");
  xl.append("tspan").attr("dy", 3).style("font-size", "12px").text("2");
  xl.append("tspan").attr("dy", -3).text(" (");
  xl.append("tspan").style("font-style", "italic").text("klf2");
  xl.append("tspan").text(" nTPM)");

  var yl = g.append("text")
    .attr("transform", "translate(24," + p.ylabY + ") rotate(-90)")
    .attr("text-anchor", "middle").style("font-size", "18.5px");
  yl.append("tspan").text("log");
  yl.append("tspan").attr("dy", 4).style("font-size", "12px").text("2");
  yl.append("tspan").attr("dy", -4).text(" (");
  yl.append("tspan").style("font-style", "italic").text("klf7");
  yl.append("tspan").text(" nTPM)");

  // correlation note
  var st = g.append("g").style("font-size", i === 0 ? "18px" : "17.5px");
  st.append("text").attr("x", p.statX).attr("y", p.statY[0]).text("Spearman\u2019s rank correlation");
  var l2 = st.append("text").attr("x", p.statX).attr("y", p.statY[1]);
  l2.append("tspan").text(statS[i]);
  l2.append("tspan").style("font-style", "italic").text("P");
  l2.append("tspan").text(statP[i]);
  st.append("text").attr("x", p.statX).attr("y", p.statY[2]).text(statR[i]);
});
</script>
</body>
</html>
